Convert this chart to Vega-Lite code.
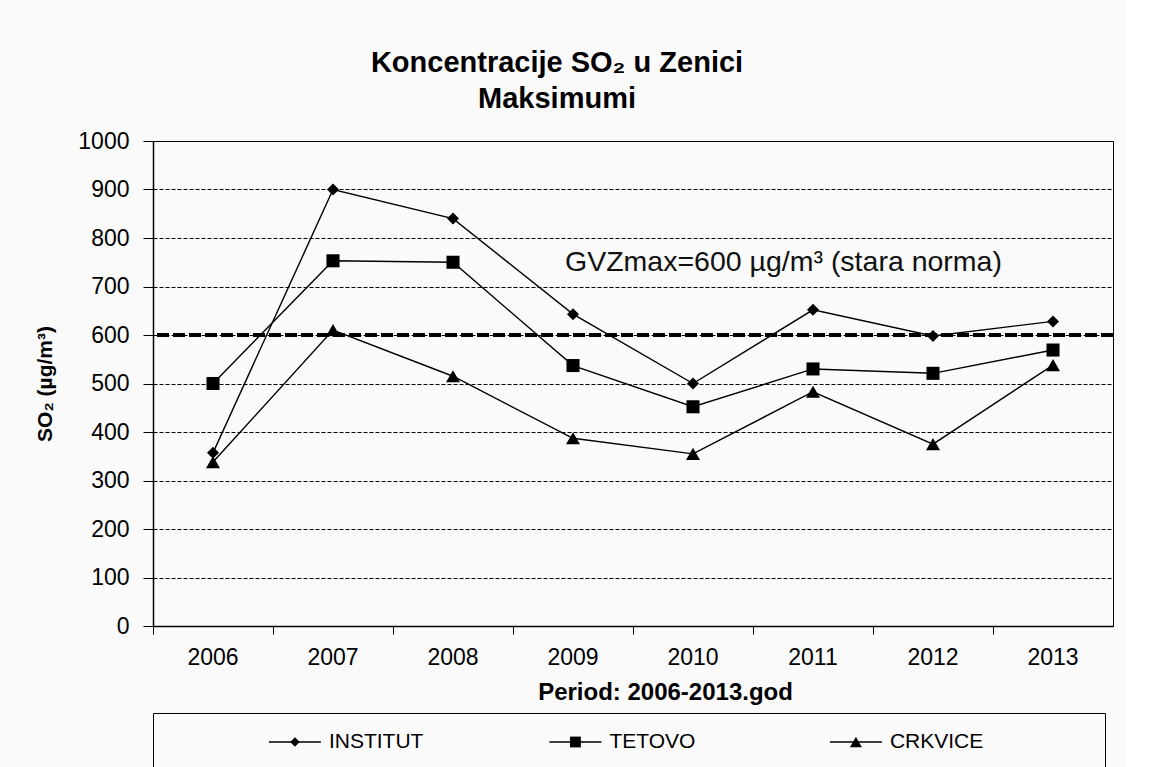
{
  "$schema": "https://vega.github.io/schema/vega-lite/v6.json",
  "background": "#fafafa",
  "padding": {"left": 34, "top": 48, "right": 10, "bottom": 0},
  "bounds": "flush",
  "spacing": 87,
  "config": {
    "font": "Liberation Sans",
    "view": {"stroke": "black", "strokeWidth": 1, "fill": null}
  },
  "resolve": {"scale": {"x": "independent", "y": "independent", "shape": "independent", "size": "independent"}},
  "datasets": {
    "so2": [
      {"year": "2006", "series": "INSTITUT", "value": 357},
      {"year": "2007", "series": "INSTITUT", "value": 900},
      {"year": "2008", "series": "INSTITUT", "value": 840},
      {"year": "2009", "series": "INSTITUT", "value": 643},
      {"year": "2010", "series": "INSTITUT", "value": 500},
      {"year": "2011", "series": "INSTITUT", "value": 652},
      {"year": "2012", "series": "INSTITUT", "value": 598},
      {"year": "2013", "series": "INSTITUT", "value": 628},
      {"year": "2006", "series": "TETOVO", "value": 500},
      {"year": "2007", "series": "TETOVO", "value": 753},
      {"year": "2008", "series": "TETOVO", "value": 750},
      {"year": "2009", "series": "TETOVO", "value": 537},
      {"year": "2010", "series": "TETOVO", "value": 452},
      {"year": "2011", "series": "TETOVO", "value": 530},
      {"year": "2012", "series": "TETOVO", "value": 521},
      {"year": "2013", "series": "TETOVO", "value": 569},
      {"year": "2006", "series": "CRKVICE", "value": 338},
      {"year": "2007", "series": "CRKVICE", "value": 610},
      {"year": "2008", "series": "CRKVICE", "value": 515},
      {"year": "2009", "series": "CRKVICE", "value": 387},
      {"year": "2010", "series": "CRKVICE", "value": 355},
      {"year": "2011", "series": "CRKVICE", "value": 483},
      {"year": "2012", "series": "CRKVICE", "value": 375},
      {"year": "2013", "series": "CRKVICE", "value": 538}
    ],
    "norm": [{"norm": 600, "label": "GVZmax=600 µg/m³ (stara norma)"}],
    "legend": [{"series": "INSTITUT"}, {"series": "TETOVO"}, {"series": "CRKVICE"}]
  },
  "vconcat": [
    {
      "width": 960,
      "height": 485,
      "title": {
        "text": ["Koncentracije SO₂ u Zenici", "Maksimumi"],
        "fontSize": 29,
        "fontWeight": "bold",
        "color": "black",
        "anchor": "middle",
        "frame": "group",
        "dx": -76,
        "offset": -13,
        "baseline": "bottom",
        "lineHeight": 36
      },
      "layer": [
        {
          "data": {"name": "so2"},
          "mark": {"type": "line", "color": "black", "strokeWidth": 1.4},
          "encoding": {
            "x": {
              "field": "year",
              "type": "ordinal",
              "scale": {"type": "band", "paddingInner": 0, "paddingOuter": 0},
              "axis": {
                "title": "Period: 2006-2013.god",
                "titleFontSize": 24,
                "titleFontWeight": "bold",
                "titleColor": "black",
                "titleX": 512,
                "titlePadding": 11,
                "labelAngle": 0,
                "labelFontSize": 23,
                "labelColor": "black",
                "labelPadding": 12,
                "bandPosition": 0,
                "tickExtra": true,
                "tickSize": 8,
                "tickColor": "black",
                "domainColor": "black",
                "domainWidth": 1.5,
                "grid": false
              }
            },
            "y": {
              "field": "value",
              "type": "quantitative",
              "scale": {"domain": [0, 1000], "nice": false},
              "axis": {
                "title": "SO₂ (µg/m³)",
                "titleFontSize": 21,
                "titleFontWeight": "bold",
                "titleColor": "black",
                "titlePadding": 22,
                "values": [0, 100, 200, 300, 400, 500, 600, 700, 800, 900, 1000],
                "format": "d",
                "labelFontSize": 23,
                "labelColor": "black",
                "labelPadding": 14,
                "tickSize": 10,
                "tickColor": "black",
                "domainColor": "black",
                "domainWidth": 1.5,
                "grid": true,
                "gridColor": "black",
                "gridDash": [4, 2],
                "gridOpacity": 1
              }
            },
            "detail": {"field": "series"}
          }
        },
        {
          "data": {"name": "norm"},
          "mark": {"type": "rule", "color": "black", "strokeWidth": 4, "strokeDash": [12, 4]},
          "encoding": {"y": {"field": "norm", "type": "quantitative"}}
        },
        {
          "data": {"name": "so2"},
          "mark": {"type": "point", "filled": true, "color": "black", "opacity": 1},
          "encoding": {
            "x": {"field": "year", "type": "ordinal"},
            "y": {"field": "value", "type": "quantitative"},
            "shape": {
              "field": "series",
              "type": "nominal",
              "scale": {"domain": ["INSTITUT", "TETOVO", "CRKVICE"], "range": ["diamond", "square", "triangle-up"]},
              "legend": null
            },
            "size": {
              "field": "series",
              "type": "ordinal",
              "scale": {"domain": ["INSTITUT", "TETOVO", "CRKVICE"], "range": [144, 196, 150]},
              "legend": null
            }
          }
        },
        {
          "data": {"name": "norm"},
          "mark": {"type": "text", "align": "left", "baseline": "middle", "dx": -8, "fontSize": 28.5, "color": "#111111"},
          "encoding": {
            "x": {"datum": "2009", "type": "ordinal"},
            "y": {"datum": 750, "type": "quantitative"},
            "text": {"field": "label"}
          }
        }
      ]
    },
    {
      "width": 952,
      "height": 58,
      "data": {"name": "legend"},
      "encoding": {
        "x": {
          "field": "series",
          "type": "nominal",
          "sort": ["INSTITUT", "TETOVO", "CRKVICE"],
          "scale": {"type": "point", "padding": 0.697, "align": 0.363},
          "axis": null
        }
      },
      "layer": [
        {
          "mark": {"type": "rule", "color": "black", "strokeWidth": 1.5, "xOffset": -26, "x2Offset": 26},
          "encoding": {"x2": {"field": "series"}}
        },
        {
          "mark": {"type": "point", "filled": true, "color": "black", "opacity": 1},
          "encoding": {
            "shape": {
              "field": "series",
              "type": "nominal",
              "scale": {"domain": ["INSTITUT", "TETOVO", "CRKVICE"], "range": ["diamond", "square", "triangle-up"]},
              "legend": null
            },
            "size": {
              "field": "series",
              "type": "ordinal",
              "scale": {"domain": ["INSTITUT", "TETOVO", "CRKVICE"], "range": [90, 144, 110]},
              "legend": null
            }
          }
        },
        {
          "mark": {"type": "text", "align": "left", "baseline": "middle", "dx": 34, "fontSize": 21, "color": "black"},
          "encoding": {"text": {"field": "series"}}
        }
      ]
    }
  ]
}
